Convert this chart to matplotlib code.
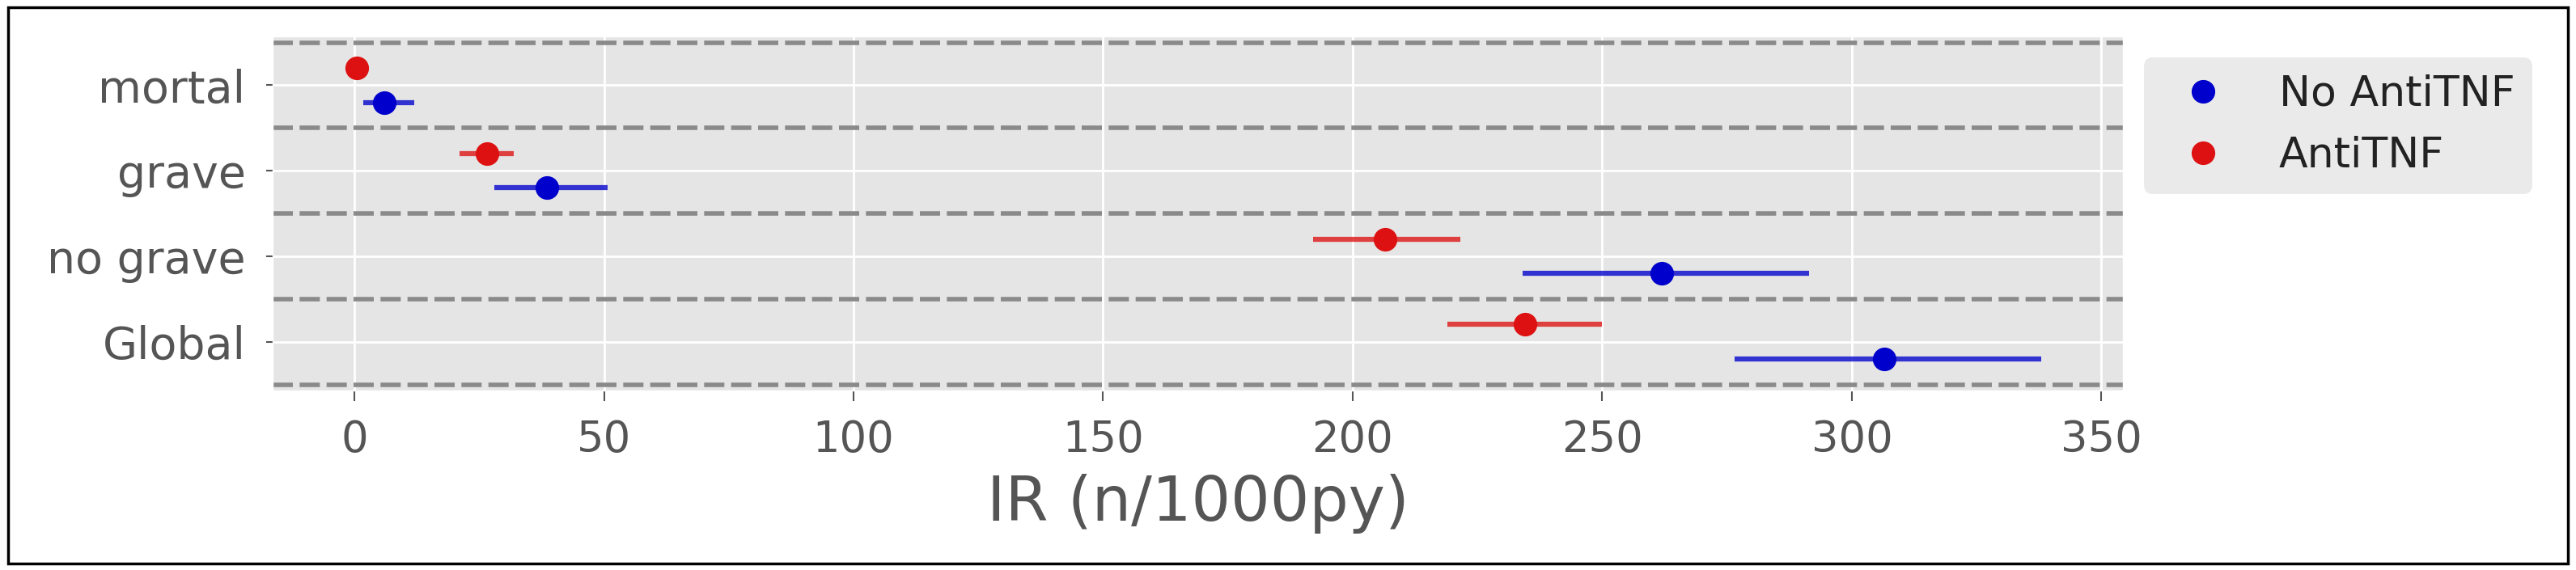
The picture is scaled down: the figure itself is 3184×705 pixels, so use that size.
import numpy as np
import matplotlib
matplotlib.use("Agg")
from matplotlib import pyplot as plt
from matplotlib.patches import Rectangle

# categories top to bottom
categories = ["mortal", "grave", "no grave", "Global"]

# incidence rates with confidence intervals (n/1000py)
no_anti_ir = [6.0, 38.5, 262.0, 306.5]
no_anti_low = [1.8, 28.0, 234.0, 276.5]
no_anti_high = [12.0, 50.8, 291.5, 338.0]

anti_ir = [0.5, 26.5, 206.5, 234.5]
anti_low = [0.1, 21.0, 192.0, 219.0]
anti_high = [1.5, 32.0, 221.5, 250.0]

x_ticks = [0, 50, 100, 150, 200, 250, 300, 350]

plt.style.use("ggplot")
plt.rcParams["font.family"] = ["DejaVu Sans"]

fig = plt.figure(figsize=(31.84, 7.05), dpi=100)
ax = fig.add_axes([0.1058, 0.315, 0.7183, 0.621])

pos = np.arange(len(categories))
blue = "#0000cc"
red = "#dd1111"

def draw(ir, low, high, offset, color, label):
    ir = np.array(ir)
    err = [ir - np.array(low), np.array(high) - ir]
    ax.errorbar(ir, pos + offset, xerr=err, fmt="none", ecolor=color,
                elinewidth=4.5, alpha=0.78, capsize=0, zorder=3)
    ax.plot(ir, pos + offset, "o", color=color, markersize=20, label=label, zorder=4)

draw(no_anti_ir, no_anti_low, no_anti_high, 0.2, blue, "No AntiTNF")
draw(anti_ir, anti_low, anti_high, -0.2, red, "AntiTNF")

# separators between the groups
for y in np.arange(len(categories) + 1) - 0.5:
    ax.axhline(y, color="#8a8a8a", lw=4, linestyle=(0, (4.5, 1.5)), zorder=2)

ax.set_yticks(pos)
ax.set_yticklabels(categories)
ax.set_ylim(len(categories) - 0.43, -0.57)
ax.set_xticks(x_ticks)
ax.set_xlim(-16.4, 354.3)

ax.grid(True, color="white", lw=2)
ax.tick_params(axis="x", labelsize=38, length=9, width=1.5, pad=16, colors="#555555")
ax.tick_params(axis="y", labelsize=40, length=6, width=1.5, pad=18, colors="#555555")
ax.set_xlabel("IR (n/1000py)", fontsize=55, color="#555555", labelpad=12)

leg = ax.legend(loc="upper left", bbox_to_anchor=(1.0, 1.0), fontsize=37.5,
                frameon=True, facecolor="#e5e5e5", edgecolor="#e5e5e5")
for t in leg.get_texts():
    t.set_color("#222222")

# frame around the whole picture
fig.patches.append(Rectangle((0.003, 0.012), 0.994, 0.975, transform=fig.transFigure,
                             fill=False, edgecolor="black", lw=2.5))

fig.savefig("out.png", dpi=100)
